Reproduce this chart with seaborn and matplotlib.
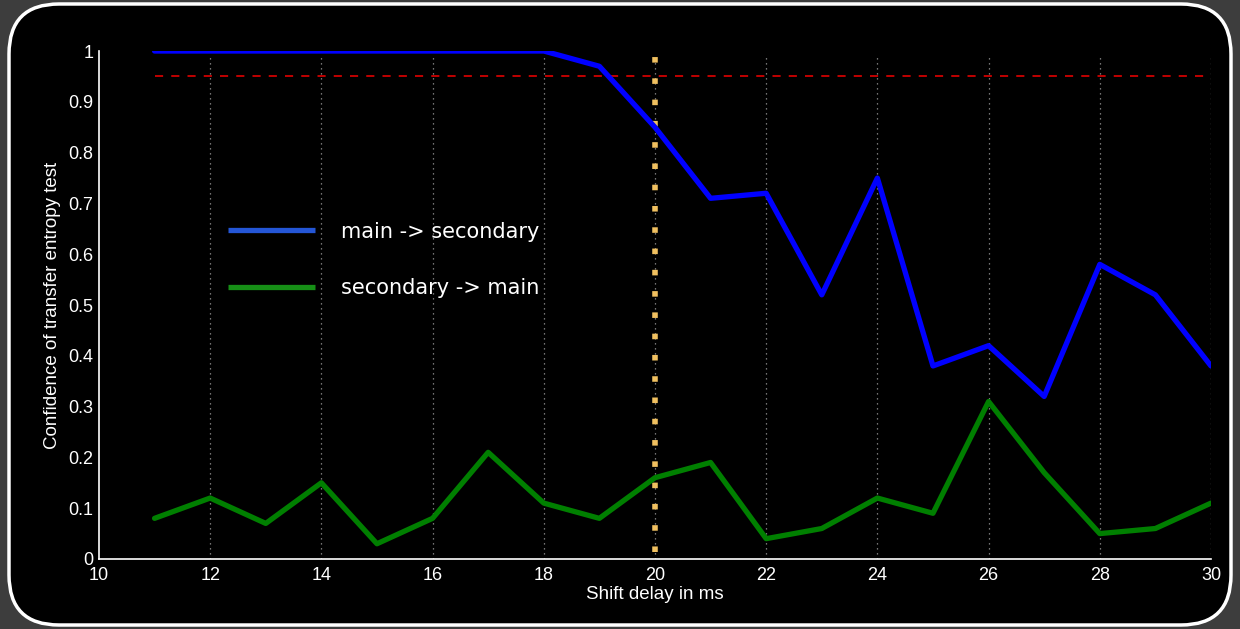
import matplotlib
matplotlib.use("Agg")
import matplotlib.pyplot as plt
from matplotlib.patches import FancyBboxPatch
import seaborn as sns
import pandas as pd

shift_ms = [11, 12, 13, 14, 15, 16, 17, 18, 19, 20,
            21, 22, 23, 24, 25, 26, 27, 28, 29, 30]
main_to_secondary = [1.0, 1.0, 1.0, 1.0, 1.0, 1.0, 1.0, 1.0, 0.97, 0.85,
                     0.71, 0.72, 0.52, 0.75, 0.38, 0.42, 0.32, 0.58, 0.52, 0.38]
secondary_to_main = [0.08, 0.12, 0.07, 0.15, 0.03, 0.08, 0.21, 0.11, 0.08, 0.16,
                     0.19, 0.04, 0.06, 0.12, 0.09, 0.31, 0.17, 0.05, 0.06, 0.11]
threshold = 0.95
marked_delay = 20
x_ticks = [10, 12, 14, 16, 18, 20, 22, 24, 26, 28, 30]
y_ticks = [0, 0.1, 0.2, 0.3, 0.4, 0.5, 0.6, 0.7, 0.8, 0.9, 1]
y_tick_labels = ["0", "0.1", "0.2", "0.3", "0.4", "0.5", "0.6", "0.7", "0.8", "0.9", "1"]

sns.set_style("dark")
plt.rcParams["font.family"] = ["Liberation Sans", "DejaVu Sans"]

df = pd.DataFrame({"shift": shift_ms,
                   "m2s": main_to_secondary,
                   "s2m": secondary_to_main})

fig = plt.figure(figsize=(12.4, 6.29), dpi=100, facecolor="#3d3d3d")

# rounded black panel with white border (inch coordinates)
panel = FancyBboxPatch((0.09, 0.04), 12.22, 6.21,
                       boxstyle="round,pad=0,rounding_size=0.5",
                       transform=fig.dpi_scale_trans, facecolor="black",
                       edgecolor="white", linewidth=2.5, zorder=0)
fig.patches.append(panel)

ax = fig.add_axes([0.0798, 0.1113, 0.8968, 0.8076])
ax.set_zorder(2)
ax.set_facecolor("black")

ax.axhline(threshold, xmin=(11 - 10) / 20, xmax=1.0, color="#d00000",
           linestyle=(0, (4.5, 4.5)), linewidth=1.3, zorder=2)

sns.lineplot(data=df, x="shift", y="m2s", ax=ax, color="#0000ff",
             linewidth=3.8, label="main -> secondary", zorder=4)
sns.lineplot(data=df, x="shift", y="s2m", ax=ax, color="#007f00",
             linewidth=3.8, label="secondary -> main", zorder=4)

ax.plot([marked_delay, marked_delay], [0.0145, 0.995], color="#f0c060",
        linestyle=(0, (1, 2.83)), linewidth=4, zorder=3,
        dash_capstyle="butt")

ax.set_xlim(10, 30)
ax.set_ylim(0, 1)
ax.set_xticks(x_ticks)
ax.set_yticks(y_ticks)
ax.set_yticklabels(y_tick_labels)

for xv in x_ticks[1:]:
    ax.axvline(xv, color="#9a9a9a", linestyle=(0, (1, 3)), linewidth=0.9,
               ymin=0.0, ymax=0.99, zorder=1)
ax.grid(False)

for side in ("top", "right"):
    ax.spines[side].set_visible(False)
for side in ("left", "bottom"):
    ax.spines[side].set_visible(True)
    ax.spines[side].set_color("white")
    ax.spines[side].set_linewidth(1.2)

ax.tick_params(axis="both", direction="in", length=10, width=1, color="#cccccc",
               labelcolor="white", labelsize=13)
ax.tick_params(axis="y", pad=4)
ax.tick_params(axis="x", pad=5.5)

ax.set_xlabel("Shift delay in ms", color="white", fontsize=13.5, labelpad=2)
ax.set_ylabel("Confidence of transfer entropy test", color="white",
              fontsize=13.5, labelpad=5)

leg = ax.legend(loc="center left", bbox_to_anchor=(0.116, 0.589), frameon=False,
                borderpad=0, borderaxespad=0,
                handlelength=4.2, handletextpad=1.25, labelspacing=1.75,
                prop={"family": "DejaVu Sans", "size": 15})
for text in leg.get_texts():
    text.set_color("white")
for line, col in zip(leg.get_lines(), ["#2456d6", "#168f16"]):
    line.set_linewidth(3.8)
    line.set_color(col)
    line.set_solid_capstyle("butt")

fig.savefig("out.png", dpi=100, facecolor=fig.get_facecolor())
